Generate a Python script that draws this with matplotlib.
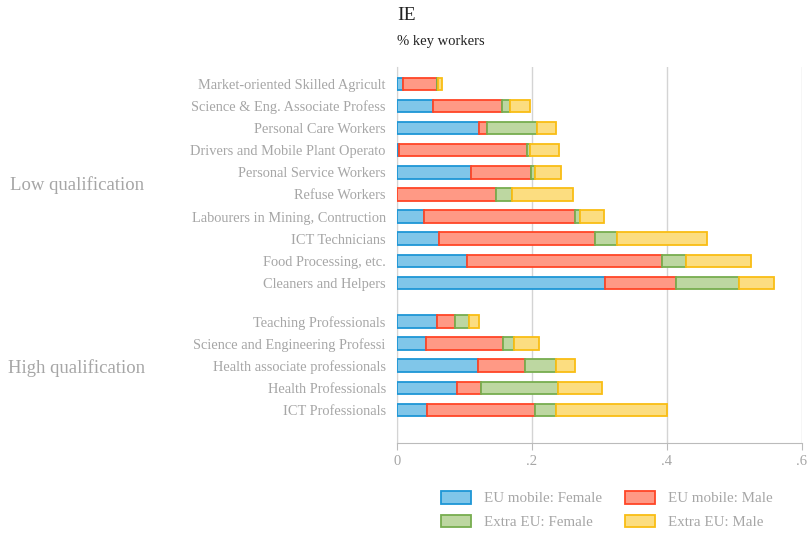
import numpy as np
import matplotlib.pyplot as plt

plt.rcParams['font.family'] = ['Liberation Serif', 'DejaVu Serif']

low_labels = ['Market-oriented Skilled Agricult', 'Science & Eng. Associate Profess',
              'Personal Care Workers', 'Drivers and Mobile Plant Operato',
              'Personal Service Workers', 'Refuse Workers',
              'Labourers in Mining, Contruction', 'ICT Technicians',
              'Food Processing, etc.', 'Cleaners and Helpers']
high_labels = ['Teaching Professionals', 'Science and Engineering Professi',
               'Health associate professionals', 'Health Professionals',
               'ICT Professionals']

# shares, low qualification then high qualification
eu_female = [0.009, 0.053, 0.121, 0.003, 0.110, 0.000, 0.040, 0.062, 0.103, 0.308,
             0.060, 0.043, 0.120, 0.089, 0.045]
eu_male = [0.050, 0.103, 0.013, 0.190, 0.088, 0.146, 0.224, 0.231, 0.290, 0.105,
           0.026, 0.114, 0.070, 0.035, 0.160]
ex_female = [0.002, 0.011, 0.073, 0.004, 0.007, 0.025, 0.007, 0.033, 0.035, 0.094,
             0.020, 0.016, 0.046, 0.114, 0.031]
ex_male = [0.005, 0.030, 0.028, 0.043, 0.038, 0.090, 0.036, 0.134, 0.096, 0.052,
           0.015, 0.038, 0.028, 0.065, 0.164]

series = [
    ('EU mobile: Female', eu_female, '#80c6e9', '#1e96d6'),
    ('EU mobile: Male', eu_male, '#ff9985', '#ff4526'),
    ('Extra EU: Female', ex_female, '#bdd7a1', '#77ad4f'),
    ('Extra EU: Male', ex_male, '#fcdd80', '#f9bd14'),
]

labels = low_labels + high_labels
ypos = np.concatenate([np.arange(10), 10.75 + np.arange(5)])

fig = plt.figure(figsize=(8.11, 5.35), dpi=100)
ax = fig.add_axes([0.4895, 0.172, 0.4994, 0.7028])

left = np.zeros(len(labels))
handles = []
for name, vals, face, edge in series:
    vals = np.array(vals)
    h = ax.barh(ypos, vals, left=left, height=0.56, color=face, edgecolor=edge,
                linewidth=1.3, label=name, zorder=3)
    handles.append(h)
    left += vals

ax.set_xlim(0, 0.6)
ax.set_ylim(14.75 + 1.5, -0.77)
ax.set_yticks(ypos)
ax.set_yticklabels(labels, fontsize=10.4, color='#a6a6a6')
ax.tick_params(axis='y', length=0, pad=8)
ax.set_xticks([0, 0.2, 0.4, 0.6])
ax.set_xticklabels(['0', '.2', '.4', '.6'], fontsize=10.5, color='#a6a6a6')
ax.tick_params(axis='x', length=5, color='#bbbbbb', pad=4)
ax.grid(axis='x', color='#d4d4d4', linewidth=1, zorder=0)
for s in ['top', 'right']:
    ax.spines[s].set_visible(False)
ax.spines['left'].set_color('#d4d4d4')
ax.spines['bottom'].set_color('#bbbbbb')

fig.text(10 / 811, 1 - 185 / 535, 'Low qualification', fontsize=13.5, color='#a6a6a6', va='center')
fig.text(8 / 811, 1 - 368 / 535, 'High qualification', fontsize=13.5, color='#a6a6a6', va='center')
fig.text(397 / 811, 1 - 15 / 535, 'IE', fontsize=14, color='#222222', va='center')
fig.text(397 / 811, 1 - 42 / 535, '% key workers', fontsize=10.5, color='#222222', va='center')

# column-wise fill: EU Female / Extra Female in col 1, EU Male / Extra Male in col 2
order = [handles[0], handles[2], handles[1], handles[3]]
leg = fig.legend(handles=order, loc='center', bbox_to_anchor=(607 / 811, 1 - 510 / 535),
                 ncol=2, frameon=False, fontsize=10.8, handlelength=2.0, handleheight=0.9,
                 columnspacing=1.5, labelspacing=0.6, handletextpad=0.9)
for t in leg.get_texts():
    t.set_color('#a6a6a6')

fig.savefig('out.png', dpi=100)
